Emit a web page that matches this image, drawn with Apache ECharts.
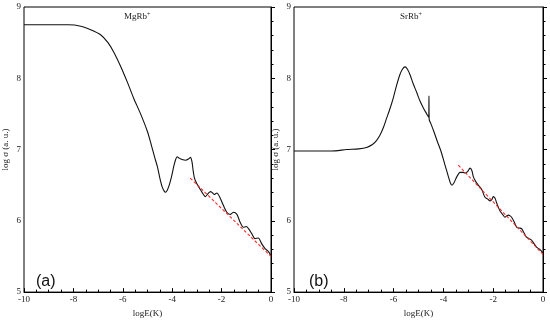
<!DOCTYPE html>
<html><head><meta charset="utf-8">
<script src="https://cdn.jsdelivr.net/npm/echarts@6/dist/echarts.min.js"></script>
<style>html,body{margin:0;padding:0;background:#fff}#c{width:550px;height:323px}</style>
</head><body><div id="c"></div>
<script>
// MgRb+ curve
const mgX = [-10, -9, -8.2, -7.7, -7.3, -6.9, -6.6, -6.37, -6.09, -5.82, -5.56, -5.28, -5.0, -4.85, -4.7, -4.6, -4.5, -4.41, -4.33, -4.27, -4.2, -4.12, -4.02, -3.94, -3.86, -3.8, -3.72, -3.6, -3.45, -3.33, -3.26, -3.2, -3.15, -3.1, -3.0, -2.9, -2.79, -2.66, -2.53, -2.45, -2.39, -2.3, -2.19, -2.06, -1.92, -1.79, -1.65, -1.52, -1.38, -1.25, -1.12, -1.0, -0.91, -0.78, -0.65, -0.51, -0.38, -0.24, -0.11, 0];
const mgY = [8.75, 8.75, 8.75, 8.73, 8.68, 8.61, 8.5, 8.37, 8.17, 7.95, 7.72, 7.5, 7.25, 7.07, 6.88, 6.76, 6.6, 6.48, 6.42, 6.40, 6.43, 6.5, 6.63, 6.76, 6.86, 6.9, 6.88, 6.86, 6.85, 6.87, 6.89, 6.83, 6.7, 6.6, 6.52, 6.46, 6.4, 6.34, 6.39, 6.41, 6.40, 6.37, 6.39, 6.32, 6.21, 6.12, 6.09, 6.12, 6.09, 5.98, 5.91, 5.92, 5.89, 5.82, 5.75, 5.76, 5.68, 5.61, 5.57, 5.51];
const mgFitX = [-3.27, 0];
const mgFitY = [6.6, 5.5];
// SrRb+ curve
const srX = [-10, -8.5, -7.88, -7.4, -7.08, -6.85, -6.68, -6.55, -6.41, -6.28, -6.14, -6.0, -5.88, -5.75, -5.64, -5.54, -5.45, -5.34, -5.21, -5.07, -4.94, -4.8, -4.67, -4.59, -4.58, -4.57, -4.5, -4.38, -4.25, -4.1, -3.95, -3.8, -3.72, -3.66, -3.58, -3.46, -3.33, -3.2, -3.13, -3.03, -2.93, -2.85, -2.8, -2.7, -2.6, -2.46, -2.33, -2.2, -2.13, -2.05, -2.0, -1.93, -1.86, -1.73, -1.6, -1.53, -1.45, -1.39, -1.32, -1.26, -1.15, -1.06, -0.96, -0.86, -0.76, -0.66, -0.56, -0.46, -0.36, -0.26, -0.13, 0];
const srY = [6.98, 6.98, 7.0, 7.01, 7.03, 7.07, 7.13, 7.2, 7.31, 7.44, 7.58, 7.74, 7.9, 8.05, 8.13, 8.16, 8.13, 8.05, 7.92, 7.8, 7.68, 7.58, 7.5, 7.45, 7.75, 7.42, 7.36, 7.25, 7.12, 6.98, 6.8, 6.62, 6.53, 6.5, 6.53, 6.62, 6.68, 6.68, 6.67, 6.69, 6.74, 6.7, 6.62, 6.55, 6.5, 6.44, 6.33, 6.3, 6.28, 6.3, 6.34, 6.32, 6.25, 6.14, 6.08, 6.05, 6.07, 6.08, 6.07, 6.05, 5.98, 5.91, 5.9, 5.89, 5.83, 5.77, 5.75, 5.73, 5.68, 5.63, 5.6, 5.55];
const srFitX = [-3.4, 0];
const srFitY = [6.78, 5.53];
// axes
const xTicks = [-10, -8, -6, -4, -2, 0];
const yTicks = [5, 6, 7, 8, 9];
const xName = 'logE(K)';
const yName = 'log σ (a. u.)';
const titles = ['MgRb', 'SrRb'];
const panelLabels = ['(a)', '(b)'];

const zip = (xs, ys) => xs.map((x, i) => [x, ys[i]]);
const serif = 'Liberation Serif';

function xAxis(gi) {
  return {
    type: 'value', gridIndex: gi, min: xTicks[0], max: xTicks[xTicks.length - 1], interval: 2,
    name: xName, nameLocation: 'middle', nameGap: 14,
    nameTextStyle: { fontFamily: serif, fontSize: 9, color: '#222' },
    axisLine: { lineStyle: { color: '#000', width: 1 } },
    axisTick: { inside: true, length: 4, lineStyle: { color: '#000' } },
    minorTick: { show: true, splitNumber: 4, length: 2.5, lineStyle: { color: '#000' } },
    axisLabel: { fontFamily: serif, fontSize: 9, color: '#222', margin: 3 },
    splitLine: { show: false }
  };
}
function yAxis(gi) {
  return {
    type: 'value', gridIndex: gi, min: yTicks[0], max: yTicks[yTicks.length - 1], interval: 1,
    name: yName, nameLocation: 'middle', nameGap: 14, nameRotate: 90,
    nameTextStyle: { fontFamily: serif, fontSize: 9, color: '#222' },
    axisLine: { lineStyle: { color: '#000', width: 1 } },
    axisTick: { inside: true, length: 4, lineStyle: { color: '#000' } },
    minorTick: { show: true, splitNumber: 5, length: 2.5, lineStyle: { color: '#000' } },
    axisLabel: { fontFamily: serif, fontSize: 9, color: '#222', margin: 3 },
    splitLine: { show: false }
  };
}
const lineS = { color: '#111', width: 1.1 };
const fitS = { color: '#ff2a2a', width: 1.1, type: [3, 2] };

const chart = echarts.init(document.getElementById('c'));
chart.setOption({
  animation: false,
  grid: [
    { left: 23, right: 279, top: 7, bottom: 25, show: true, borderColor: '#000', borderWidth: 1, backgroundColor: 'transparent' },
    { left: 294, right: 7, top: 7, bottom: 25, show: true, borderColor: '#000', borderWidth: 1, backgroundColor: 'transparent' }
  ],
  xAxis: [xAxis(0), xAxis(1)],
  yAxis: [yAxis(0), yAxis(1)],
  series: [
    { type: 'line', xAxisIndex: 0, yAxisIndex: 0, data: zip(mgX, mgY), showSymbol: false, smooth: 0.25, lineStyle: lineS, z: 3 },
    { type: 'line', xAxisIndex: 0, yAxisIndex: 0, data: zip(mgFitX, mgFitY), showSymbol: false, lineStyle: fitS, z: 4 },
    { type: 'line', xAxisIndex: 1, yAxisIndex: 1, data: zip(srX, srY), showSymbol: false, smooth: 0.25, lineStyle: lineS, z: 3 },
    { type: 'line', xAxisIndex: 1, yAxisIndex: 1, data: zip(srFitX, srFitY), showSymbol: false, lineStyle: fitS, z: 4 }
  ],
  graphic: [
    { type: 'text', left: 124, top: 11, style: { text: titles[0] + '{s|+}', fontFamily: serif, fontSize: 9, fill: '#222',
      rich: { s: { fontSize: 6, verticalAlign: 'top', padding: [0, 0, 6, 0], fontFamily: serif, fill: '#222' } } } },
    { type: 'text', left: 400, top: 11, style: { text: titles[1] + '{s|+}', fontFamily: serif, fontSize: 9, fill: '#222',
      rich: { s: { fontSize: 6, verticalAlign: 'top', padding: [0, 0, 6, 0], fontFamily: serif, fill: '#222' } } } },
    { type: 'text', left: 36, top: 274, style: { text: panelLabels[0], fontFamily: 'Liberation Sans', fontSize: 16, fill: '#111' } },
    { type: 'text', left: 309, top: 274, style: { text: panelLabels[1], fontFamily: 'Liberation Sans', fontSize: 16, fill: '#111' } }
  ]
});
</script></body></html>
